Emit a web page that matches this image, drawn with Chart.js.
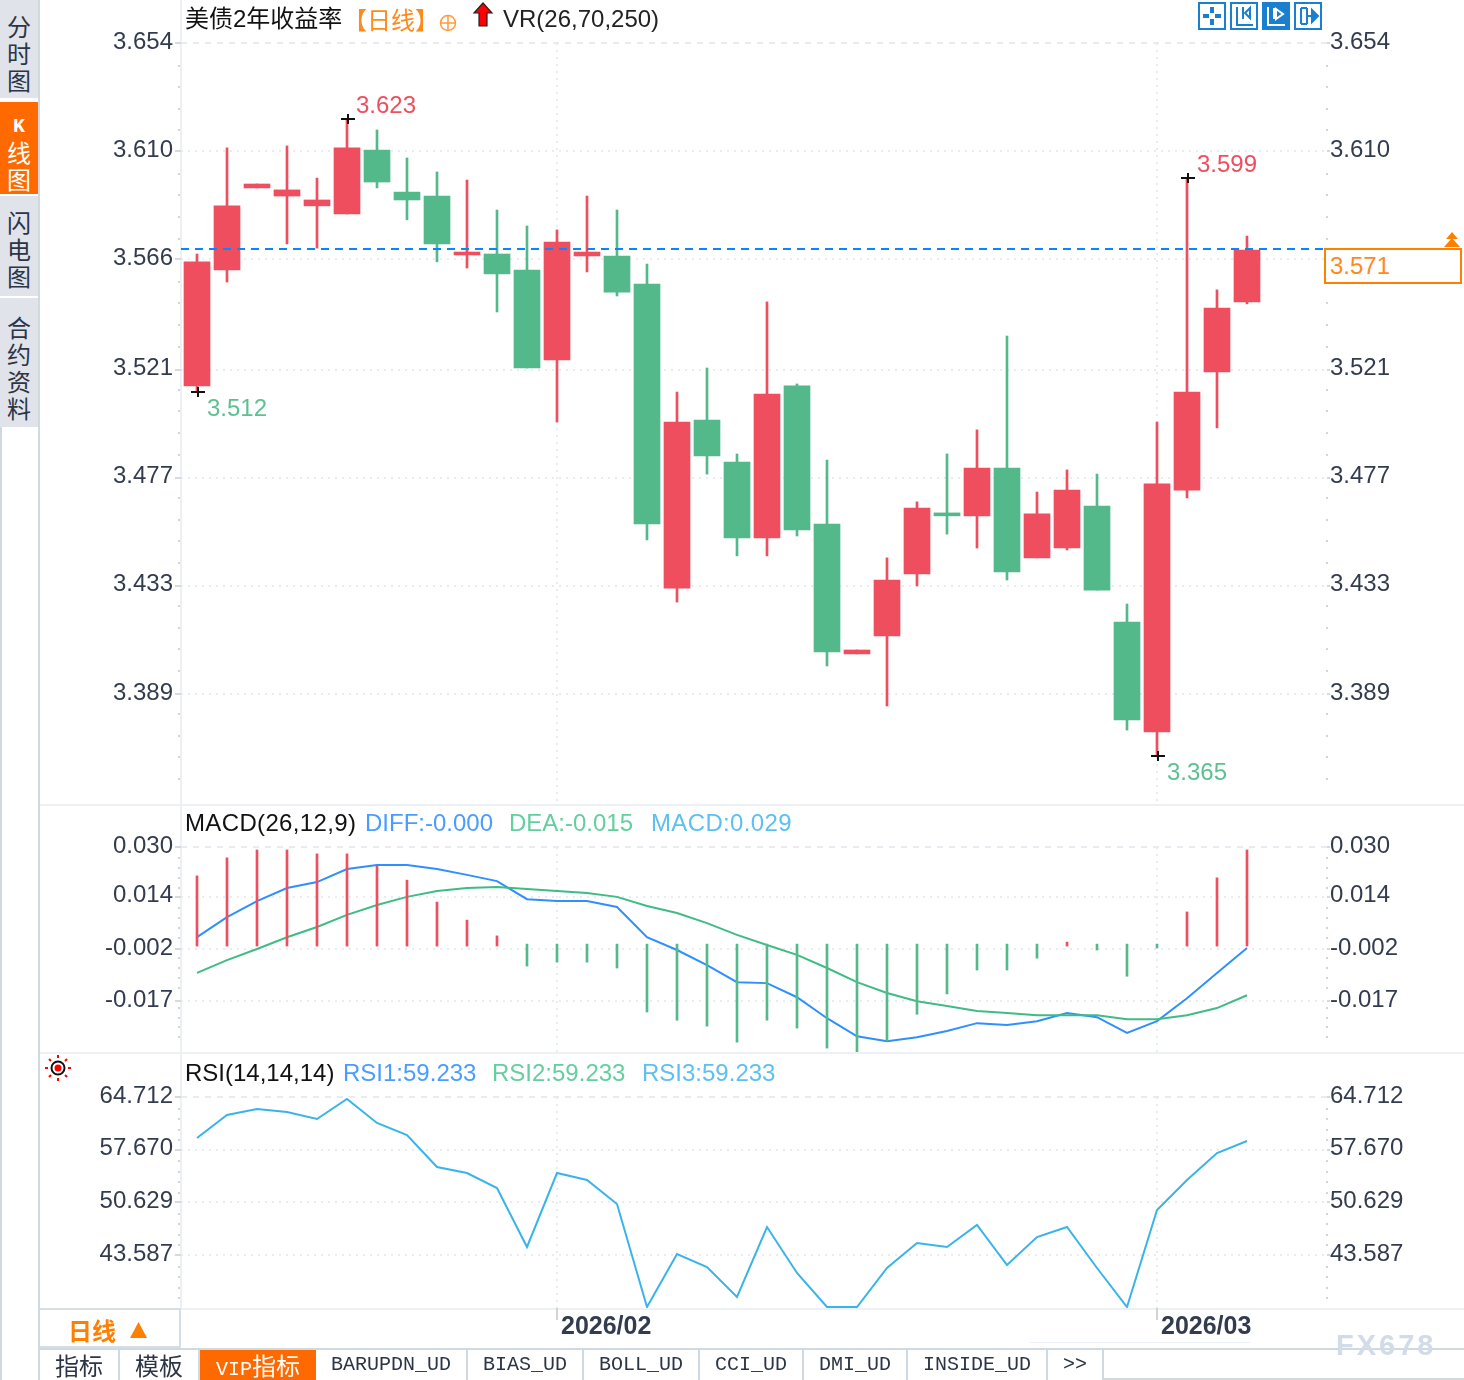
<!DOCTYPE html>
<html>
<head>
<meta charset="utf-8">
<script src="https://cdn.jsdelivr.net/npm/chart.js@4"></script>
<style>
  html, body { margin: 0; padding: 0; background: #fff; }
  #page { position: relative; width: 1464px; height: 1380px; overflow: hidden; font-family: "Liberation Sans", "Noto Sans CJK SC", sans-serif; font-size: 24px; }
  canvas { position: absolute; left: 40px; }
  .t { position: absolute; white-space: pre; line-height: 28px; height: 28px; z-index: 3; }
  .box { position: absolute; box-sizing: border-box; }
  .side { position: absolute; left: 0; width: 38px; background: #e1e3ea; color: #2c3546; text-align: center; line-height: 27px; font-family: "Noto Sans CJK SC"; box-sizing: border-box; overflow: hidden; }
  .tab { position: absolute; top: 1350px; height: 30px; line-height: 29px; text-align: center; color: #2c3546; border-right: 2px solid #d0d8e0; box-sizing: border-box; }
  .mono { font-family: "Liberation Mono", "Noto Sans CJK SC"; font-size: 20px; }
  .cjk { font-family: "Noto Sans CJK SC"; }
  svg { position: absolute; z-index: 3; }
</style>
</head>
<body>
<div id="page">
  <!-- side menu -->
  <div class="side" style="top:0;height:98px;padding-top:12px">分<br>时<br>图</div>
  <div class="side" style="top:102px;height:92px;background:#ff6a00;color:#fff;padding-top:6px"><span style="font:bold 20px 'Liberation Mono'">K</span><br>线<br>图</div>
  <div class="side" style="top:196px;height:100px;padding-top:12px">闪<br>电<br>图</div>
  <div class="side" style="top:298px;height:129px;padding-top:15px">合<br>约<br>资<br>料</div>
  <div class="box" style="left:0;top:427px;width:2px;height:953px;background:#d0d8e0"></div>
  <div class="box" style="left:38px;top:0;width:2px;height:1380px;background:#d0d8e0"></div>

  <!-- panel lines -->
  <div class="box" style="left:180px;top:0;width:2px;height:1310px;background:#edf1f5"></div>
  <div class="box" style="left:40px;top:804px;width:1424px;height:2px;background:#edf1f5"></div>
  <div class="box" style="left:40px;top:1052px;width:1424px;height:2px;background:#edf1f5"></div>
  <div class="box" style="left:40px;top:1308px;width:1424px;height:2px;background:#edf1f5"></div>
  <div class="box" style="left:1030px;top:1342px;width:220px;height:1px;background:#edf1f5"></div>

  <canvas id="mainChart" width="1424" height="804" style="top:0"></canvas>
  <canvas id="macdChart" width="1424" height="246" style="top:806px"></canvas>
  <canvas id="rsiChart" width="1424" height="294" style="top:1054px"></canvas>

  <!-- main header -->
  <span class="t" style="left:185px;top:5px;color:#111">美债2年收益率</span>
  <span class="t cjk" style="left:343px;top:5px;color:#ff8a1c">【日线】</span>
  <svg style="left:439px;top:14px" width="18" height="18"><circle cx="9" cy="9" r="7.5" fill="none" stroke="#ff9a3c" stroke-width="1.5"/><path d="M1.5 9H16.5M9 1.5V16.5" stroke="#ff9a3c" stroke-width="1.5"/></svg>
  <svg style="left:472px;top:2px" width="22" height="26"><path d="M11 1L20 11H15V24H7V11H2Z" fill="#f00" stroke="#222" stroke-width="1.2"/></svg>
  <span class="t" style="left:503px;top:5px;color:#222">VR(26,70,250)</span>

  <!-- tool icons -->
  <svg style="left:1198px;top:2px" width="124" height="28" fill="none" stroke="#1a7fcf" stroke-width="2">
    <rect x="1" y="1" width="26" height="26"/><path d="M14 5v6M14 17v6M5 14h6M17 14h6" stroke-width="4"/>
    <rect x="33" y="1" width="26" height="26"/><path d="M39 5v18h16M45 5v12M52 6l-5 5 5 5z"/>
    <rect x="64" y="0" width="28" height="28" fill="#1a7fcf" stroke="none"/><path d="M70 5v18h17M76 6v11M78 7l7 5-7 5z" stroke="#fff"/>
    <rect x="97" y="1" width="26" height="26"/><path d="M103 6v16M109 6v16M103 6h6M103 22h6M109 14h7"/><path d="M114 8l6 6-6 6z" fill="#1a7fcf"/>
  </svg>

  <!-- last price box, sits over the right axis label it replaces -->
  <div class="box" style="left:1324px;top:248px;width:138px;height:36px;border:2px solid #ff7f00;background:#fff;z-index:2"></div>
  <span class="t" style="left:1330px;top:252px;color:#ff8a1c">3.571</span>
  <svg style="left:1443px;top:232px" width="18" height="16"><path d="M9 0l6 7H3zM9 6l8 9H1z" fill="#ff7f00"/></svg>

  <!-- macd header -->
  <span class="t" style="left:185px;top:809px;color:#111;letter-spacing:.35px">MACD(26,12,9)</span>
  <span class="t" style="left:365px;top:809px;color:#4a9dff">DIFF:-0.000</span>
  <span class="t" style="left:509px;top:809px;color:#63cf9f">DEA:-0.015</span>
  <span class="t" style="left:651px;top:809px;color:#5cc0f0;letter-spacing:.35px">MACD:0.029</span>

  <!-- rsi header -->
  <svg style="left:44px;top:1054px" width="28" height="28" stroke="#f00" stroke-width="2">
    <path d="M14 1v3M14 24v3M1 14h3M24 14h3M5 5l2 2M21 21l2 2M5 23l2-2M21 7l2-2"/>
    <circle cx="14" cy="14" r="6.5" fill="#fff" stroke="#111"/><circle cx="14" cy="14" r="3.5" fill="#f00" stroke="none"/>
  </svg>
  <span class="t" style="left:185px;top:1059px;color:#111">RSI(14,14,14)</span>
  <span class="t" style="left:343px;top:1059px;color:#4a9dff">RSI1:59.233</span>
  <span class="t" style="left:492px;top:1059px;color:#63cf9f">RSI2:59.233</span>
  <span class="t" style="left:642px;top:1059px;color:#5cc0f0">RSI3:59.233</span>

  <!-- bottom bar -->
  <div class="box" style="left:40px;top:1308px;width:141px;height:40px;border:2px solid #d5dde5;border-left:0"></div>
  <span class="t cjk" style="left:68px;top:1316px;color:#ff7f00;font-weight:bold">日线</span>
  <svg style="left:130px;top:1322px" width="17" height="16"><path d="M8.5 0L17 16H0z" fill="#ff7f00"/></svg>
  <div class="box" style="left:40px;top:1348px;width:1424px;height:2px;background:#d0d8e0"></div>
  <div class="tab cjk" style="left:40px;width:80px">指标</div>
  <div class="tab cjk" style="left:120px;width:80px">模板</div>
  <div class="tab cjk" style="left:200px;width:116px;background:#ff6a00;color:#fff;border:0"><span class="mono">VIP</span>指标</div>
  <div class="tab mono" style="left:316px;width:152px">BARUPDN_UD</div>
  <div class="tab mono" style="left:468px;width:116px">BIAS_UD</div>
  <div class="tab mono" style="left:584px;width:116px">BOLL_UD</div>
  <div class="tab mono" style="left:700px;width:104px">CCI_UD</div>
  <div class="tab mono" style="left:804px;width:104px">DMI_UD</div>
  <div class="tab mono" style="left:908px;width:140px">INSIDE_UD</div>
  <div class="tab mono" style="left:1048px;width:56px">&gt;&gt;</div>
  <div class="box" style="left:1104px;top:1378px;width:360px;height:2px;background:#d0d8e0"></div>

  <span class="t" style="left:1336px;top:1331px;color:#d2dbe8;font-size:29px;font-weight:bold;letter-spacing:3px">FX678</span>
</div>

<script>
// --- data ---
const opens = [3.5144, 3.5616, 3.5950, 3.5917, 3.5877, 3.5844, 3.6104, 3.5933, 3.5917, 3.5677, 3.5681, 3.5616,
  3.5250, 3.5673, 3.5673, 3.5559, 3.4321, 3.5005, 3.4834, 3.4525, 3.5144, 3.4582, 3.4053, 3.4126,
  3.4379, 3.4627, 3.4615, 3.4810, 3.4444, 3.4484, 3.4655, 3.4183, 3.3735, 3.4720, 3.5201, 3.5486];
const closes = [3.5649, 3.5877, 3.5966, 3.5942, 3.5901, 3.6113, 3.5974, 3.5901, 3.5722, 3.5689, 3.5600, 3.5217,
  3.5730, 3.5689, 3.5526, 3.4582, 3.4997, 3.4859, 3.4525, 3.5111, 3.4558, 3.4061, 3.4069, 3.4354,
  3.4647, 3.4615, 3.4810, 3.4387, 3.4623, 3.4720, 3.4313, 3.3784, 3.4745, 3.5119, 3.5461, 3.5697];
const highs = [3.5681, 3.6113, 3.5966, 3.6121, 3.5990, 3.6231, 3.6186, 3.6072, 3.6015, 3.5982, 3.5860, 3.5795,
  3.5779, 3.5917, 3.5860, 3.5640, 3.5119, 3.5217, 3.4867, 3.5486, 3.5152, 3.4842, 3.4069, 3.4444,
  3.4672, 3.4867, 3.4965, 3.5347, 3.4712, 3.4802, 3.4785, 3.4256, 3.4997, 3.5990, 3.5535, 3.5754];
const lows = [3.5119, 3.5567, 3.5950, 3.5722, 3.5705, 3.5844, 3.5950, 3.5820, 3.5649, 3.5624, 3.5445, 3.5217,
  3.4997, 3.5608, 3.5510, 3.4517, 3.4264, 3.4785, 3.4452, 3.4452, 3.4533, 3.4004, 3.4053, 3.3841,
  3.4330, 3.4541, 3.4484, 3.4354, 3.4444, 3.4476, 3.4313, 3.3743, 3.3638, 3.4688, 3.4973, 3.5478];
const lastPrice = 3.5701;

const macdHist = [0.0214, 0.0269, 0.0293, 0.0293, 0.0281, 0.0281, 0.0244, 0.0201, 0.0134, 0.0079, 0.0031, -0.0061,
  -0.0049, -0.0049, -0.0067, -0.0201, -0.0226, -0.0244, -0.0293, -0.0226, -0.0250, -0.0311, -0.0323, -0.0290,
  -0.0208, -0.0146, -0.0073, -0.0073, -0.0037, 0.0012, -0.0012, -0.0092, -0.0006, 0.0104, 0.0208, 0.0293];
const macdDiff = [0.0027, 0.0088, 0.0137, 0.0177, 0.0195, 0.0235, 0.0247, 0.0247, 0.0235, 0.0217, 0.0198, 0.0143,
  0.0137, 0.0137, 0.0119, 0.0027, -0.0012, -0.0058, -0.0110, -0.0113, -0.0156, -0.0220, -0.0275, -0.0290,
  -0.0278, -0.0259, -0.0235, -0.0241, -0.0229, -0.0204, -0.0217, -0.0265, -0.0229, -0.0159, -0.0082, -0.0006];
const macdDea = [-0.0082, -0.0043, -0.0009, 0.0027, 0.0058, 0.0095, 0.0125, 0.0150, 0.0168, 0.0177, 0.0180, 0.0174,
  0.0168, 0.0162, 0.0150, 0.0122, 0.0101, 0.0070, 0.0034, 0.0003, -0.0027, -0.0067, -0.0110, -0.0143,
  -0.0168, -0.0183, -0.0198, -0.0204, -0.0211, -0.0211, -0.0211, -0.0223, -0.0223, -0.0211, -0.0189, -0.0150];
const rsiValues = [59.23, 62.31, 63.11, 62.71, 61.77, 64.44, 61.24, 59.63, 55.35, 54.55, 52.54, 44.66,
  54.55, 53.61, 50.40, 36.63, 43.72, 41.98, 37.97, 47.33, 41.18, 36.63, 36.63, 41.85,
  45.19, 44.66, 47.60, 42.25, 45.99, 47.33, 41.85, 36.63, 49.60, 53.61, 57.22, 58.83];

const priceTicks = [3.654, 3.610, 3.566, 3.521, 3.477, 3.433, 3.389];
const macdTicks = [0.0302, 0.0150, -0.0009, -0.0168];
const macdTickLabels = ['0.030', '0.014', '-0.002', '-0.017'];
const rsiTicks = [64.712, 57.670, 50.629, 43.587];
const monthIndexes = [12, 32];
const monthLabels = ['2026/02', '2026/03'];
const extremeIndexes = [5, 33, 0, 32];
const extremeLabels = ['3.623', '3.599', '3.512', '3.365'];

// --- colours, axis ranges ---
const RED = '#ee4e5e';
const GREEN = '#53b88a';
const GRID = '#e8ecf0';
const X_MIN = -0.5333;
const X_MAX = 37.6667;
const LEFT_W = 141;
const RIGHT_W = 137;

Chart.defaults.font.family = '"Liberation Sans"';
Chart.defaults.font.size = 24;
Chart.defaults.color = '#333c4f';
Chart.defaults.animation = false;

const candleColors = opens.map((o, i) => (closes[i] >= o ? RED : GREEN));
const toXY = (arr) => arr.map((v, i) => ({ x: i, y: v }));

function noPadding(scale) {
  scale.paddingTop = 0;
  scale.paddingBottom = 0;
  scale.paddingLeft = 0;
  scale.paddingRight = 0;
}

function yAxis(position, ticks, labels, min, max) {
  const isLeft = position === 'left';
  return {
    type: 'linear',
    position: position,
    min: min,
    max: max,
    afterBuildTicks: (scale) => { scale.ticks = ticks.map((v) => ({ value: v })); },
    afterFit: (scale) => { scale.width = isLeft ? LEFT_W : RIGHT_W; noPadding(scale); },
    border: { display: false, dash: (ctx) => (ctx.index === 0 ? [6, 6] : [2, 5]) },
    grid: { drawOnChartArea: isLeft, color: GRID, lineWidth: 2, tickLength: isLeft ? 6 : 3, tickColor: '#d5dae0' },
    ticks: {
      padding: isLeft ? 2 : 0,
      labelOffset: -1,
      autoSkip: false,
      callback: (value, i) => labels[i]
    }
  };
}

function xAxis(showDates) {
  return {
    type: 'linear',
    offset: false,
    min: X_MIN,
    max: X_MAX,
    afterBuildTicks: (scale) => { scale.ticks = monthIndexes.map((v) => ({ value: v })); },
    afterFit: (scale) => { scale.height = showDates ? 40 : 0; noPadding(scale); },
    border: { display: false, dash: [2, 5] },
    grid: { offset: false, color: GRID, lineWidth: 2, drawTicks: showDates, tickLength: 12, tickColor: '#cdd4db' },
    ticks: {
      display: showDates,
      align: 'start',
      labelOffset: 4,
      padding: -8,
      maxRotation: 0,
      autoSkip: false,
      font: { size: 25, weight: 'bold' },
      callback: (value, i) => monthLabels[i]
    }
  };
}

// small dots along both y axes between the labelled ticks
const minorTicksPlugin = {
  id: 'minorTicks',
  afterDraw(chart) {
    const ctx = chart.ctx;
    const yScale = chart.scales.y;
    const ticks = yScale.ticks;
    const step = (ticks[0].value - ticks[1].value) / 5;
    ctx.save();
    ctx.fillStyle = '#cfd5db';
    for (let v = ticks[0].value - step, n = 1; v > yScale.min; v -= step, n++) {
      if (n % 5 === 0) continue;
      const y = Math.round(yScale.getPixelForValue(v));
      ctx.fillRect(chart.chartArea.left - 3, y, 2, 2);
      ctx.fillRect(chart.chartArea.right - 1, y, 2, 2);
    }
    ctx.restore();
  }
};

// + marks and value labels on the highest and lowest candles
const extremesPlugin = {
  id: 'extremes',
  afterDatasetsDraw(chart) {
    const ctx = chart.ctx;
    const { x, y } = chart.scales;
    ctx.save();
    ctx.font = '24px "Liberation Sans"';
    ctx.textBaseline = 'middle';
    extremeIndexes.forEach((idx, i) => {
      const isHigh = i < 2;
      const px = x.getPixelForValue(idx);
      const py = Math.round(y.getPixelForValue(isHigh ? highs[idx] : lows[idx]));
      ctx.fillStyle = '#111';
      ctx.fillRect(px - 6, py - 1, 14, 2);
      ctx.fillRect(px, py - 5, 2, 10);
      ctx.fillStyle = isHigh ? RED : '#5cc192';
      ctx.fillText(extremeLabels[i], px + (idx === 5 ? 9 : 10), py + (isHigh ? -13 : 17));
    });
    ctx.restore();
  }
};

new Chart(document.getElementById('mainChart'), {
  type: 'bar',
  plugins: [minorTicksPlugin, extremesPlugin],
  data: {
    datasets: [
      {
        type: 'line',
        data: [{ x: X_MIN, y: lastPrice }, { x: X_MAX, y: lastPrice }],
        borderColor: '#0a84ff',
        borderWidth: 2,
        borderDash: [8, 6],
        pointRadius: 0,
        order: 0
      },
      {
        data: opens.map((o, i) => ({ x: i, y: [o, closes[i]] })),
        backgroundColor: candleColors,
        barThickness: 26,
        grouped: false,
        order: 1
      },
      {
        data: highs.map((h, i) => ({ x: i, y: [lows[i], h] })),
        backgroundColor: candleColors,
        barThickness: 2,
        grouped: false,
        order: 2
      }
    ]
  },
  options: {
    responsive: false,
    devicePixelRatio: 1,
    layout: { padding: { top: 43 } },
    plugins: { legend: { display: false }, tooltip: { enabled: false } },
    scales: {
      x: xAxis(false),
      y: yAxis('left', priceTicks, priceTicks.map((v) => v.toFixed(3)), 3.3442, 3.654),
      yRight: yAxis('right', priceTicks, priceTicks.map((v) => v.toFixed(3)), 3.3442, 3.654)
    }
  }
});

// green bars hang from just above the zero line in the original
new Chart(document.getElementById('macdChart'), {
  type: 'bar',
  plugins: [minorTicksPlugin],
  data: {
    datasets: [
      {
        data: toXY(macdHist).filter((p) => p.y >= 0),
        backgroundColor: RED,
        barThickness: 2,
        grouped: false,
        order: 1
      },
      {
        data: toXY(macdHist).filter((p) => p.y < 0),
        base: 0.0006,
        backgroundColor: GREEN,
        barThickness: 2,
        grouped: false,
        order: 1
      },
      { type: 'line', data: toXY(macdDea), borderColor: '#3fbc84', borderWidth: 2, pointRadius: 0, order: 2 },
      { type: 'line', data: toXY(macdDiff), borderColor: '#2f8fff', borderWidth: 2, pointRadius: 0, order: 3 }
    ]
  },
  options: {
    responsive: false,
    devicePixelRatio: 1,
    layout: { padding: { top: 41 } },
    plugins: { legend: { display: false }, tooltip: { enabled: false } },
    scales: {
      x: xAxis(false),
      y: yAxis('left', macdTicks, macdTickLabels, -0.0323, 0.0302),
      yRight: yAxis('right', macdTicks, macdTickLabels, -0.0323, 0.0302)
    }
  }
});

new Chart(document.getElementById('rsiChart'), {
  type: 'line',
  plugins: [minorTicksPlugin],
  data: {
    datasets: [
      { data: toXY(rsiValues), borderColor: '#3ab4e8', borderWidth: 2, pointRadius: 0 }
    ]
  },
  options: {
    responsive: false,
    devicePixelRatio: 1,
    layout: { padding: { top: 43 } },
    plugins: { legend: { display: false }, tooltip: { enabled: false } },
    scales: {
      x: xAxis(true),
      y: yAxis('left', rsiTicks, rsiTicks.map((v) => v.toFixed(3)), 36.5, 64.712),
      yRight: yAxis('right', rsiTicks, rsiTicks.map((v) => v.toFixed(3)), 36.5, 64.712)
    }
  }
});
</script>
</body>
</html>
